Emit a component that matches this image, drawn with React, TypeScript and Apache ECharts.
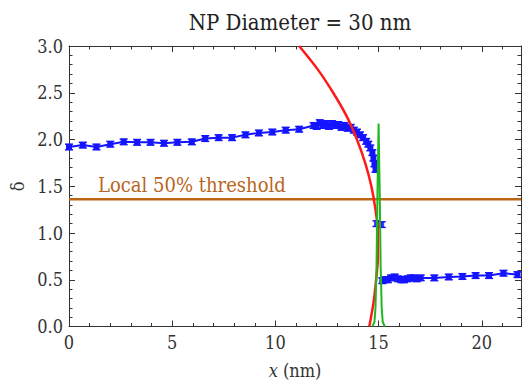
import React, { useEffect, useRef } from "react";
import * as echarts from "echarts";

const titleText = "NP Diameter = 30 nm";
const thresholdLabel = "Local 50% threshold";
const threshold = 1.36;

// blue measured profile: inside the particle
const upperX = [0, 0.67, 1.33, 2.0, 2.65, 3.3, 3.95, 4.6, 5.25, 5.95, 6.6, 7.25, 7.9, 8.55, 9.2, 9.85, 10.5, 11.15, 11.85,
  12.0, 12.15, 12.3, 12.45, 12.6, 12.75, 12.9, 13.05, 13.2, 13.35, 13.5, 13.65, 13.8, 13.95, 14.1, 14.25, 14.4, 14.5, 14.6, 14.7, 14.75, 14.8, 14.85];
const upperY = [1.92, 1.94, 1.92, 1.95, 1.975, 1.97, 1.97, 1.96, 1.97, 1.975, 2.01, 2.02, 2.02, 2.05, 2.07, 2.08, 2.10, 2.11, 2.15,
  2.14, 2.18, 2.15, 2.17, 2.14, 2.17, 2.15, 2.16, 2.13, 2.15, 2.12, 2.13, 2.10, 2.08, 2.05, 2.02, 1.98, 1.95, 1.91, 1.86, 1.80, 1.74, 1.68];
const upperErr = [0.03, 0.03, 0.03, 0.03, 0.03, 0.03, 0.03, 0.03, 0.03, 0.03, 0.03, 0.03, 0.03, 0.03, 0.03, 0.03, 0.03, 0.03, 0.03,
  0.03, 0.03, 0.03, 0.03, 0.03, 0.03, 0.03, 0.03, 0.03, 0.03, 0.03, 0.03, 0.03, 0.03, 0.03, 0.03, 0.03, 0.03, 0.03, 0.03, 0.03, 0.03, 0.03];
// points at the interface
const midX = [14.9, 15.15];
const midY = [1.10, 1.09];
const midErr = [0.03, 0.03];
// outside the particle
const lowerX = [15.18, 15.3, 15.45, 15.6, 15.78, 15.95, 16.1, 16.23, 16.4, 16.55, 16.7, 16.85, 17.04, 17.7, 18.4, 19.06, 19.7, 20.35, 21.05, 21.73];
const lowerY = [0.49, 0.50, 0.50, 0.52, 0.53, 0.51, 0.50, 0.50, 0.51, 0.52, 0.52, 0.51, 0.52, 0.52, 0.53, 0.535, 0.545, 0.545, 0.57, 0.555];
const lowerErr = [0.03, 0.03, 0.03, 0.03, 0.03, 0.03, 0.03, 0.03, 0.03, 0.03, 0.03, 0.03, 0.03, 0.03, 0.03, 0.03, 0.03, 0.03, 0.03, 0.03];

// red fitted boundary
const redX = [11.15, 12.05, 12.8, 13.45, 13.95, 14.35, 14.65, 14.85, 14.97, 14.97, 14.88, 14.75, 14.55];
const redY = [3.0, 2.75, 2.5, 2.25, 2.0, 1.75, 1.5, 1.25, 1.0, 0.75, 0.5, 0.25, 0.0];

// green interface peak
const greenX = [14.7, 14.8, 14.85, 14.9, 14.95, 15.0, 15.05, 15.1, 15.15, 15.2, 15.3];
const greenY = [0, 0.05, 0.2, 0.65, 1.5, 2.17, 1.5, 0.65, 0.2, 0.05, 0];

const xMin = 0;
const xMax = 21.9;
const yMin = 0;
const yMax = 3;

const FONT = "'DejaVu Serif Condensed', 'DejaVu Serif'";
const BLUE = "#1414ff";
const TXT = "#333333";

const zip = (xs: number[], ys: number[]) => xs.map((x, i) => [x, ys[i]]);
const zip3 = (xs: number[], ys: number[], es: number[]) => xs.map((x, i) => [x, ys[i], es[i]]);

export default function App() {
  const ref = useRef<HTMLDivElement>(null);
  useEffect(() => {
    if (!ref.current) return;
    const chart = echarts.init(ref.current, null, { renderer: "svg" });
    const errRender = (params: any, api: any) => {
      const x = api.value(0), y = api.value(1), e = api.value(2);
      const p0 = api.coord([x, y - e]);
      const p1 = api.coord([x, y + e]);
      const w = 4;
      const st = { stroke: BLUE, lineWidth: 1.5 };
      return {
        type: "group",
        children: [
          { type: "line", shape: { x1: p0[0], y1: p0[1], x2: p1[0], y2: p1[1] }, style: st },
          { type: "line", shape: { x1: p0[0] - w, y1: p0[1], x2: p0[0] + w, y2: p0[1] }, style: st },
          { type: "line", shape: { x1: p1[0] - w, y1: p1[1], x2: p1[0] + w, y2: p1[1] }, style: st },
        ],
      };
    };
    const tickAxisX = (pos: string, interval: number, len: number, main: boolean, labels: boolean) => ({
      type: "value",
      position: pos,
      min: xMin,
      max: xMax,
      interval,
      axisLine: { show: main, onZero: false, lineStyle: { color: TXT, width: 1 } },
      axisTick: { show: true, inside: true, length: len, lineStyle: { color: TXT, width: 1 } },
      axisLabel: {
        show: labels,
        showMaxLabel: false,
        margin: 7,
        color: TXT,
        fontFamily: FONT,
        fontSize: 18,
      },
      splitLine: { show: false },
    });
    const yAx = (pos: string, labels: boolean) => ({
      type: "value",
      position: pos,
      min: yMin,
      max: yMax,
      interval: 0.5,
      axisLine: { show: true, onZero: false, lineStyle: { color: TXT, width: 1 } },
      axisTick: { show: true, inside: true, length: 6, lineStyle: { color: TXT } },
      minorTick: { show: true, splitNumber: 5, length: 3.5, lineStyle: { color: TXT } },
      axisLabel: {
        show: labels,
        margin: 6,
        color: TXT,
        fontFamily: FONT,
        fontSize: 18,
        formatter: (v: number) => v.toFixed(1),
      },
      splitLine: { show: false },
      minorSplitLine: { show: false },
    });
    const xMain: any = tickAxisX("bottom", 5, 6, true, true);
    xMain.name = "{i|x} (nm)";
    xMain.nameLocation = "middle";
    xMain.nameGap = 35;
    xMain.nameTextStyle = {
      color: TXT,
      fontFamily: FONT,
      fontSize: 18,
      rich: { i: { fontStyle: "italic", fontFamily: FONT, fontSize: 18, color: TXT } },
    };
    const yMain: any = yAx("left", true);
    yMain.name = "δ";
    yMain.nameLocation = "middle";
    yMain.nameGap = 42;
    yMain.nameTextStyle = { color: TXT, fontFamily: FONT, fontSize: 18 };

    const option: any = {
      animation: false,
      backgroundColor: "#ffffff",
      title: {
        text: titleText,
        left: 295,
        textAlign: "center",
        top: 6,
        textStyle: { color: "#222", fontFamily: FONT, fontSize: 22, fontWeight: "normal" },
      },
      grid: { left: 69, right: 1, top: 46, bottom: 58.5, containLabel: false, outerBoundsMode: "none" },
      xAxis: [
        xMain,
        tickAxisX("bottom", 1, 3.5, false, false),
        tickAxisX("top", 5, 6, true, false),
        tickAxisX("top", 1, 3.5, false, false),
      ],
      yAxis: [yMain, yAx("right", false)],
      graphic: [
        {
          type: "text",
          left: 98,
          top: 175,
          style: { text: thresholdLabel, fill: "#b8651d", fontSize: 20, fontFamily: FONT },
        },
      ],
      series: [
        {
          type: "line",
          data: [[xMin, threshold], [xMax, threshold]],
          symbol: "none",
          lineStyle: { color: "#bd6414", width: 2.5 },
          z: 2,
        },
        {
          type: "line",
          data: zip(upperX, upperY),
          symbol: "rect",
          symbolSize: 6,
          itemStyle: { color: BLUE },
          lineStyle: { color: BLUE, width: 2 },
          z: 3,
        },
        {
          type: "scatter",
          data: zip(midX, midY),
          symbol: "rect",
          symbolSize: 5,
          itemStyle: { color: BLUE },
          z: 3,
        },
        {
          type: "line",
          data: zip(lowerX, lowerY),
          symbol: "rect",
          symbolSize: 6,
          itemStyle: { color: BLUE },
          lineStyle: { color: BLUE, width: 2 },
          z: 3,
        },
        {
          type: "custom",
          data: [...zip3(upperX, upperY, upperErr), ...zip3(midX, midY, midErr), ...zip3(lowerX, lowerY, lowerErr)],
          renderItem: errRender,
          encode: { x: 0, y: 1 },
          z: 3,
        },
        {
          type: "line",
          data: zip(redX, redY),
          symbol: "none",
          smooth: 0.3,
          lineStyle: { color: "#ff1a1a", width: 2.5 },
          z: 4,
        },
        {
          type: "line",
          data: zip(greenX, greenY),
          symbol: "none",
          lineStyle: { color: "#1fb81f", width: 2 },
          z: 5,
        },
      ],
    };
    chart.setOption(option);
    return () => chart.dispose();
  }, []);
  return (
    <div
      ref={ref}
      style={{ position: "fixed", left: 0, top: 0, width: 522, height: 385, background: "#fff" }}
    />
  );
}
